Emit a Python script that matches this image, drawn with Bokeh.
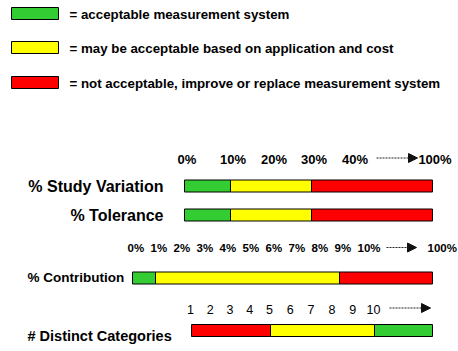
import numpy as np
from bokeh.plotting import figure
from bokeh.models import Arrow, NormalHead
from bokeh.core.properties import value
from bokeh.embed import file_html
from bokeh.resources import INLINE

# ---------------- data ----------------
GREEN, YELLOW, RED = "#33CC33", "#FFFF00", "#FF0000"
legend_colors = [GREEN, YELLOW, RED]
legend_texts = [
    "= acceptable measurement system",
    "= may be acceptable based on application and cost",
    "= not acceptable, improve or replace measurement system",
]

row_names = ["% Study Variation", "% Tolerance", "% Contribution", "# Distinct Categories"]

# segment lower bounds; the last segment runs to the open end of the scale
sv_bounds = [0, 10, 30]
tol_bounds = [0, 10, 30]
contrib_bounds = [0, 1, 9]
ndc_bounds = [1, 5, 10]
pct_colors = [GREEN, YELLOW, RED]
ndc_colors = [RED, YELLOW, GREEN]

sv_ticks = [0, 10, 20, 30, 40, 100]
sv_tick_labels = ["0%", "10%", "20%", "30%", "40%", "100%"]
contrib_ticks = [0, 1, 2, 3, 4, 5, 6, 7, 8, 9, 10, 100]
contrib_tick_labels = ["0%", "1%", "2%", "3%", "4%", "5%", "6%", "7%", "8%", "9%", "10%", "100%"]
ndc_ticks = [1, 2, 3, 4, 5, 6, 7, 8, 9, 10]
ndc_tick_labels = ["1", "2", "3", "4", "5", "6", "7", "8", "9", "10"]

# ---------------- layout ----------------
W, H = 458, 351
TRACK_RIGHT = 432


def make_scale(domain, rng):
    return lambda v: np.interp(np.asarray(v, dtype=float), domain, rng)


sv_scale = make_scale([0, 10, 20, 30, 40, 100], [184, 230, 271, 311, 352, TRACK_RIGHT])
contrib_scale = make_scale([0, 10, 100], [132, 362, TRACK_RIGHT])
ndc_scale = make_scale([1, 5, 10], [191, 270, 374])

p = figure(width=W, height=H, x_range=(0, W), y_range=(H, 0),
           output_backend="svg", toolbar_location=None,
           min_border=0, outline_line_color=None, background_fill_color="white",
           border_fill_color="white")
p.xaxis.visible = False
p.yaxis.visible = False
p.grid.visible = False

FONT = value("Liberation Sans")

# legend
leg_top = np.array([7.0, 41.0, 76.0])
p.quad(left=[11] * 3, right=[58] * 3, top=list(leg_top), bottom=list(leg_top + 12),
       fill_color=legend_colors, line_color="black", line_width=1)
p.text(x=[69] * 3, y=list(leg_top + 7), text=legend_texts, text_font=FONT,
       text_font_style="bold", text_font_size="13.3px", text_baseline="middle",
       text_align="left", text_color="black")


def draw_bar(bounds, colors, scale, top, height=12):
    lefts = [float(scale(b)) for b in bounds]
    rights = lefts[1:] + [TRACK_RIGHT]
    p.quad(left=lefts, right=rights, top=[top] * len(lefts),
           bottom=[top + height] * len(lefts), fill_color=colors,
           line_color="black", line_width=1)


# rows
draw_bar(sv_bounds, pct_colors, sv_scale, 179.5)
draw_bar(tol_bounds, pct_colors, sv_scale, 208.5)
draw_bar(contrib_bounds, pct_colors, contrib_scale, 271.5)
draw_bar(ndc_bounds, ndc_colors, ndc_scale, 324)

# row labels
p.text(x=[163, 163], y=[186, 215], text=row_names[:2], text_font=FONT,
       text_font_style="bold", text_font_size="16px", text_baseline="middle",
       text_align="right", text_color="black")
p.text(x=[27], y=[277], text=[row_names[2]], text_font=FONT,
       text_font_style="bold", text_font_size="13.5px", text_baseline="middle",
       text_align="left", text_color="black")
p.text(x=[27], y=[335], text=[row_names[3]], text_font=FONT,
       text_font_style="bold", text_font_size="14.5px", text_baseline="middle",
       text_align="left", text_color="black")

# tick labels
p.text(x=list(sv_scale(sv_ticks) + 2.5), y=[158.5] * len(sv_ticks), text=sv_tick_labels,
       text_font=FONT, text_font_style="bold", text_font_size="13px",
       text_baseline="middle", text_align="center", text_color="black")
p.text(x=list(contrib_scale(contrib_ticks) - 5), y=[247.5] * len(contrib_ticks),
       text=contrib_tick_labels, text_font=FONT, text_font_style="bold",
       text_font_size="11.5px", text_baseline="middle", text_align="left",
       text_color="black")
p.text(x=list(ndc_scale(ndc_ticks) - 1), y=[308.5] * len(ndc_ticks), text=ndc_tick_labels,
       text_font=FONT, text_font_size="12.5px", text_baseline="middle",
       text_align="center", text_color="black")

# open-end arrows
for xs, xe, y in [(376, 417, 157.5), (386, 416, 247), (389, 430, 307.5)]:
    p.add_layout(Arrow(x_start=xs, y_start=y, x_end=xe, y_end=y,
                       line_color="#222222", line_width=1.2, line_dash="2 1",
                       end=NormalHead(size=9, fill_color="#111111", line_color="#111111")))

open("out.html", "w").write(file_html(p, INLINE))
